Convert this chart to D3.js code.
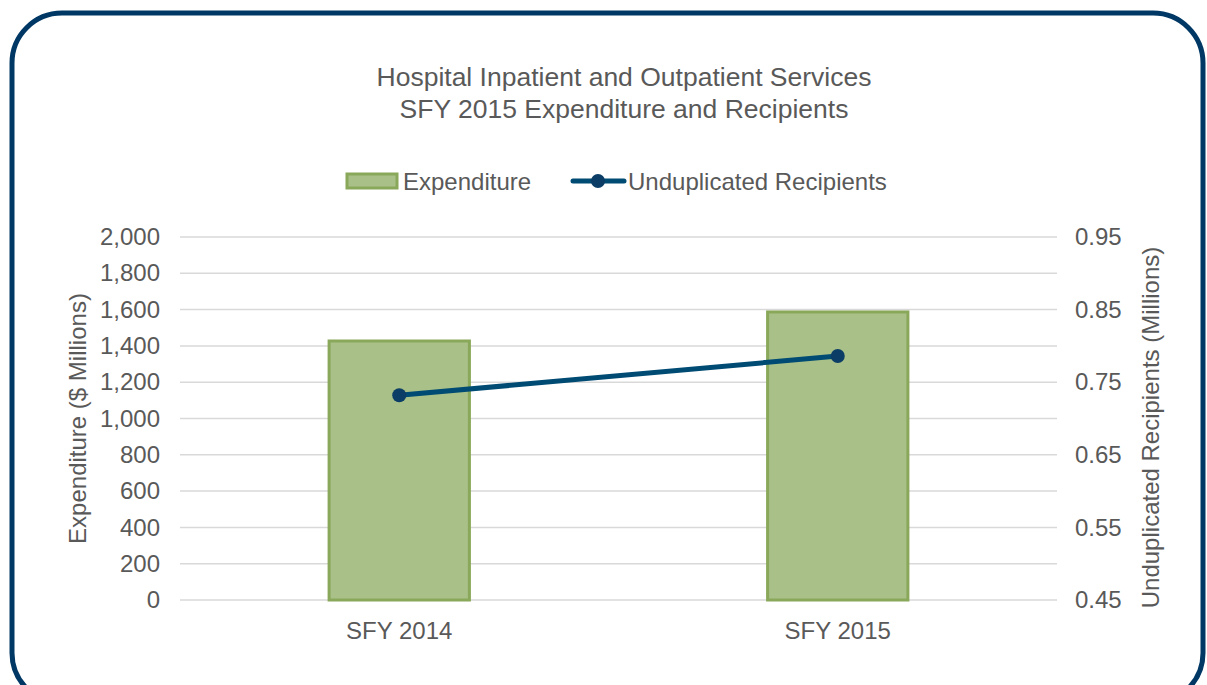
<!DOCTYPE html>
<html>
<head>
<meta charset="utf-8">
<script src="https://cdn.jsdelivr.net/npm/d3@7"></script>
<style>
  body { margin: 0; background: #fff; }
  text { font-family: "Liberation Sans", Arial, sans-serif; fill: #595959; }
</style>
</head>
<body>
<script>
// chart data
var categories = ["SFY 2014", "SFY 2015"];
var expenditure = [1427, 1587];
var recipients = [0.732, 0.786];
var leftTicks = [0, 200, 400, 600, 800, 1000, 1200, 1400, 1600, 1800, 2000];
var rightTicks = [0.45, 0.55, 0.65, 0.75, 0.85, 0.95];
var titleLines = ["Hospital Inpatient and Outpatient Services", "SFY 2015 Expenditure and Recipients"];

var width = 1207, height = 685;
var margin = {left: 180, right: 150, top: 237, bottom: 85};
var fontFam = "Liberation Sans, Arial, sans-serif";

var svg = d3.select("body").append("svg").attr("width", width).attr("height", height);

// rounded frame
svg.append("rect").attr("x", 12).attr("y", 13).attr("width", 1191).attr("height", 690)
    .attr("rx", 50).attr("ry", 50)
    .attr("fill", "none").attr("stroke", "#003865").attr("stroke-width", 5);

// title
svg.selectAll("text.title").data(titleLines).enter().append("text")
    .attr("class", "title")
    .attr("x", 624).attr("y", function (d, i) { return 86 + i * 32; })
    .attr("text-anchor", "middle").style("font-size", "26.5px")
    .text(function (d) { return d; });

var x = d3.scaleBand().domain(categories).range([margin.left, width - margin.right]);
var yL = d3.scaleLinear().domain([0, 2000]).range([height - margin.bottom, margin.top]);
var yR = d3.scaleLinear().domain([0.45, 0.95]).range([height - margin.bottom, margin.top]);

// gridlines
svg.append("g").selectAll("line").data(leftTicks).enter().append("line")
    .attr("x1", margin.left).attr("x2", width - margin.right)
    .attr("y1", function (d) { return yL(d); }).attr("y2", function (d) { return yL(d); })
    .attr("stroke", "#d9d9d9").attr("stroke-width", 1.5);

// left axis
var leftAxis = svg.append("g").attr("transform", "translate(" + margin.left + ",0)")
    .call(d3.axisLeft(yL).tickValues(leftTicks).tickFormat(d3.format(",")).tickSize(0).tickPadding(20));
leftAxis.select(".domain").remove();
leftAxis.selectAll("text").style("font-size", "24px").style("fill", "#595959").style("font-family", fontFam);

// right axis
var rightAxis = svg.append("g").attr("transform", "translate(" + (width - margin.right) + ",0)")
    .call(d3.axisRight(yR).tickValues(rightTicks).tickFormat(d3.format(".2f")).tickSize(0).tickPadding(18));
rightAxis.select(".domain").remove();
rightAxis.selectAll("text").style("font-size", "24px").style("fill", "#595959").style("font-family", fontFam);

// bottom axis
var bottomAxis = svg.append("g").attr("transform", "translate(0," + (height - margin.bottom) + ")")
    .call(d3.axisBottom(x).tickSize(0).tickPadding(22));
bottomAxis.select(".domain").remove();
bottomAxis.selectAll("text").style("font-size", "24px").style("fill", "#595959").style("font-family", fontFam);

// axis titles
svg.append("text").attr("transform", "translate(86," + (yL(1000)) + ") rotate(-90)")
    .attr("text-anchor", "middle").style("font-size", "24px").text("Expenditure ($ Millions)");
svg.append("text").attr("transform", "translate(1159," + (yL(1000) + 9) + ") rotate(-90)")
    .attr("text-anchor", "middle").style("font-size", "24px").text("Unduplicated Recipients (Millions)");

// bars
var barW = x.bandwidth() * 0.32;
svg.append("g").selectAll("rect").data(expenditure).enter().append("rect")
    .attr("x", function (d, i) { return x(categories[i]) + x.bandwidth() / 2 - barW / 2; })
    .attr("y", function (d) { return yL(d); })
    .attr("width", barW)
    .attr("height", function (d) { return yL(0) - yL(d); })
    .attr("fill", "#a9c088").attr("stroke", "#8aa85a").attr("stroke-width", 3);

// line
var line = d3.line()
    .x(function (d, i) { return x(categories[i]) + x.bandwidth() / 2; })
    .y(function (d) { return yR(d); });
svg.append("path").attr("d", line(recipients))
    .attr("fill", "none").attr("stroke", "#004b73").attr("stroke-width", 5);
svg.append("g").selectAll("circle").data(recipients).enter().append("circle")
    .attr("cx", function (d, i) { return x(categories[i]) + x.bandwidth() / 2; })
    .attr("cy", function (d) { return yR(d); })
    .attr("r", 7).attr("fill", "#0b3d66");

// legend
var lg = svg.append("g");
lg.append("rect").attr("x", 347).attr("y", 174).attr("width", 50).attr("height", 14)
    .attr("fill", "#a9c088").attr("stroke", "#8aa85a").attr("stroke-width", 3);
lg.append("text").attr("x", 403).attr("y", 190).style("font-size", "24px").text("Expenditure");
lg.append("line").attr("x1", 573).attr("x2", 624).attr("y1", 181).attr("y2", 181)
    .attr("stroke", "#004b73").attr("stroke-width", 5).attr("stroke-linecap", "round");
lg.append("circle").attr("cx", 598).attr("cy", 181).attr("r", 7).attr("fill", "#0b3d66");
lg.append("text").attr("x", 628).attr("y", 190).style("font-size", "24px").text("Unduplicated Recipients");
</script>
</body>
</html>
